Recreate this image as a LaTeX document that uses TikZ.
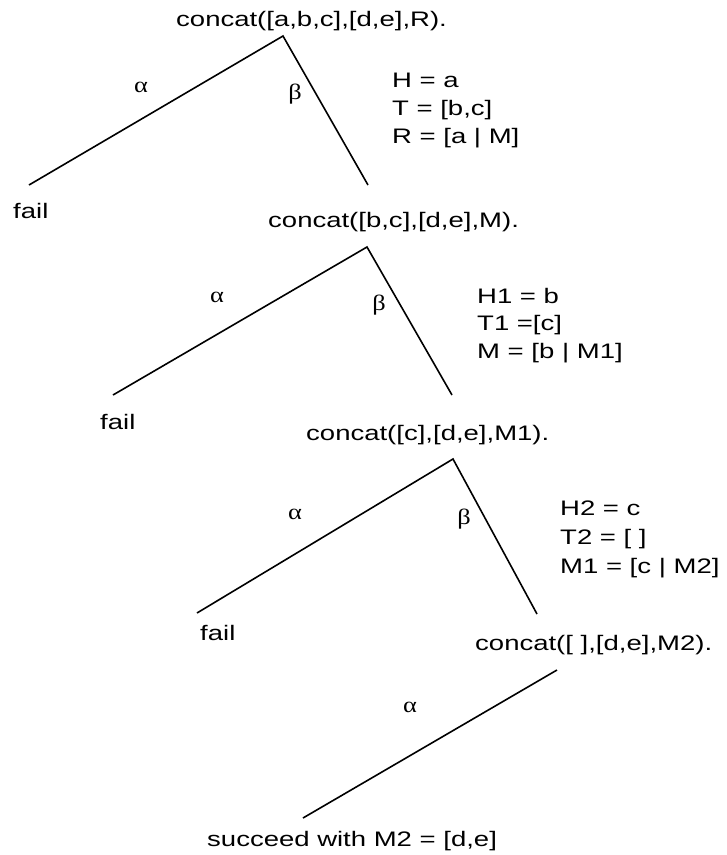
\documentclass[tikz,border=0pt]{standalone}
\usepackage{fontspec}
\setmainfont{Liberation Sans}[FakeStretch=1.31]
\newfontfamily\greekfont{Liberation Serif}[FakeStretch=1.2]
\begin{document}
\begin{tikzpicture}[x=1pt,y=-1pt,
  lab/.style={inner sep=0pt,anchor=base west,font=\fontsize{21}{28}\selectfont},
  greek/.style={inner sep=0pt,anchor=center,font=\greekfont\fontsize{22}{28}\selectfont},
  branch/.style={line width=1.6pt,line cap=butt}]
\useasboundingbox[fill=white] (0,0) rectangle (727,855);
% texts
\node[lab] (t1) at (176,26) {concat([a,b,c],[d,e],R).};
\node[lab] (f1) at (13,218) {fail};
\node[lab] (t2) at (268,227) {concat([b,c],[d,e],M).};
\node[lab] (h1) at (392,87) {H = a};
\node[lab] (h2) at (392,115) {T = [b,c]};
\node[lab] (h3) at (392,143) {R = [a | M]};
\node[lab] (f2) at (100,429) {fail};
\node[lab] (t3) at (306,440) {concat([c],[d,e],M1).};
\node[lab] (k1) at (477,303) {H1 = b};
\node[lab] (k2) at (477,330) {T1 =[c]};
\node[lab] (k3) at (477,358) {M = [b | M1]};
\node[lab] (f3) at (200,640) {fail};
\node[lab] (t4) at (475,650) {concat([ ],[d,e],M2).};
\node[lab] (m1) at (560,515) {H2 = c};
\node[lab] (m2) at (560,544) {T2 = [ ]};
\node[lab] (m3) at (560,573) {M1 = [c | M2]};
\node[lab] (s) at (207,846) {succeed with M2 = [d,e]};
% greek labels
\node[greek] (al1) at (141,87) {α};
\node[greek] (be1) at (295,94) {β};
\node[greek] (al2) at (217,297) {α};
\node[greek] (be2) at (379,305) {β};
\node[greek] (al3) at (295,514) {α};
\node[greek] (be3) at (464,519) {β};
\node[greek] (al4) at (410,707) {α};
% branch end points
\coordinate (p1) at (283,36);
\coordinate (p1l) at (29,185);
\coordinate (p1r) at (368,185);
\coordinate (p2) at (367,247);
\coordinate (p2l) at (113,395);
\coordinate (p2r) at (452,395);
\coordinate (p3) at (453,459);
\coordinate (p3l) at (197,613);
\coordinate (p3r) at (537,614);
\coordinate (p4) at (557,670);
\coordinate (p4l) at (303,818);
% branches
\draw[branch] (p1l) -- (p1) -- (p1r);
\draw[branch] (p2l) -- (p2) -- (p2r);
\draw[branch] (p3l) -- (p3) -- (p3r);
\draw[branch] (p4) -- (p4l);
\end{tikzpicture}
\end{document}
